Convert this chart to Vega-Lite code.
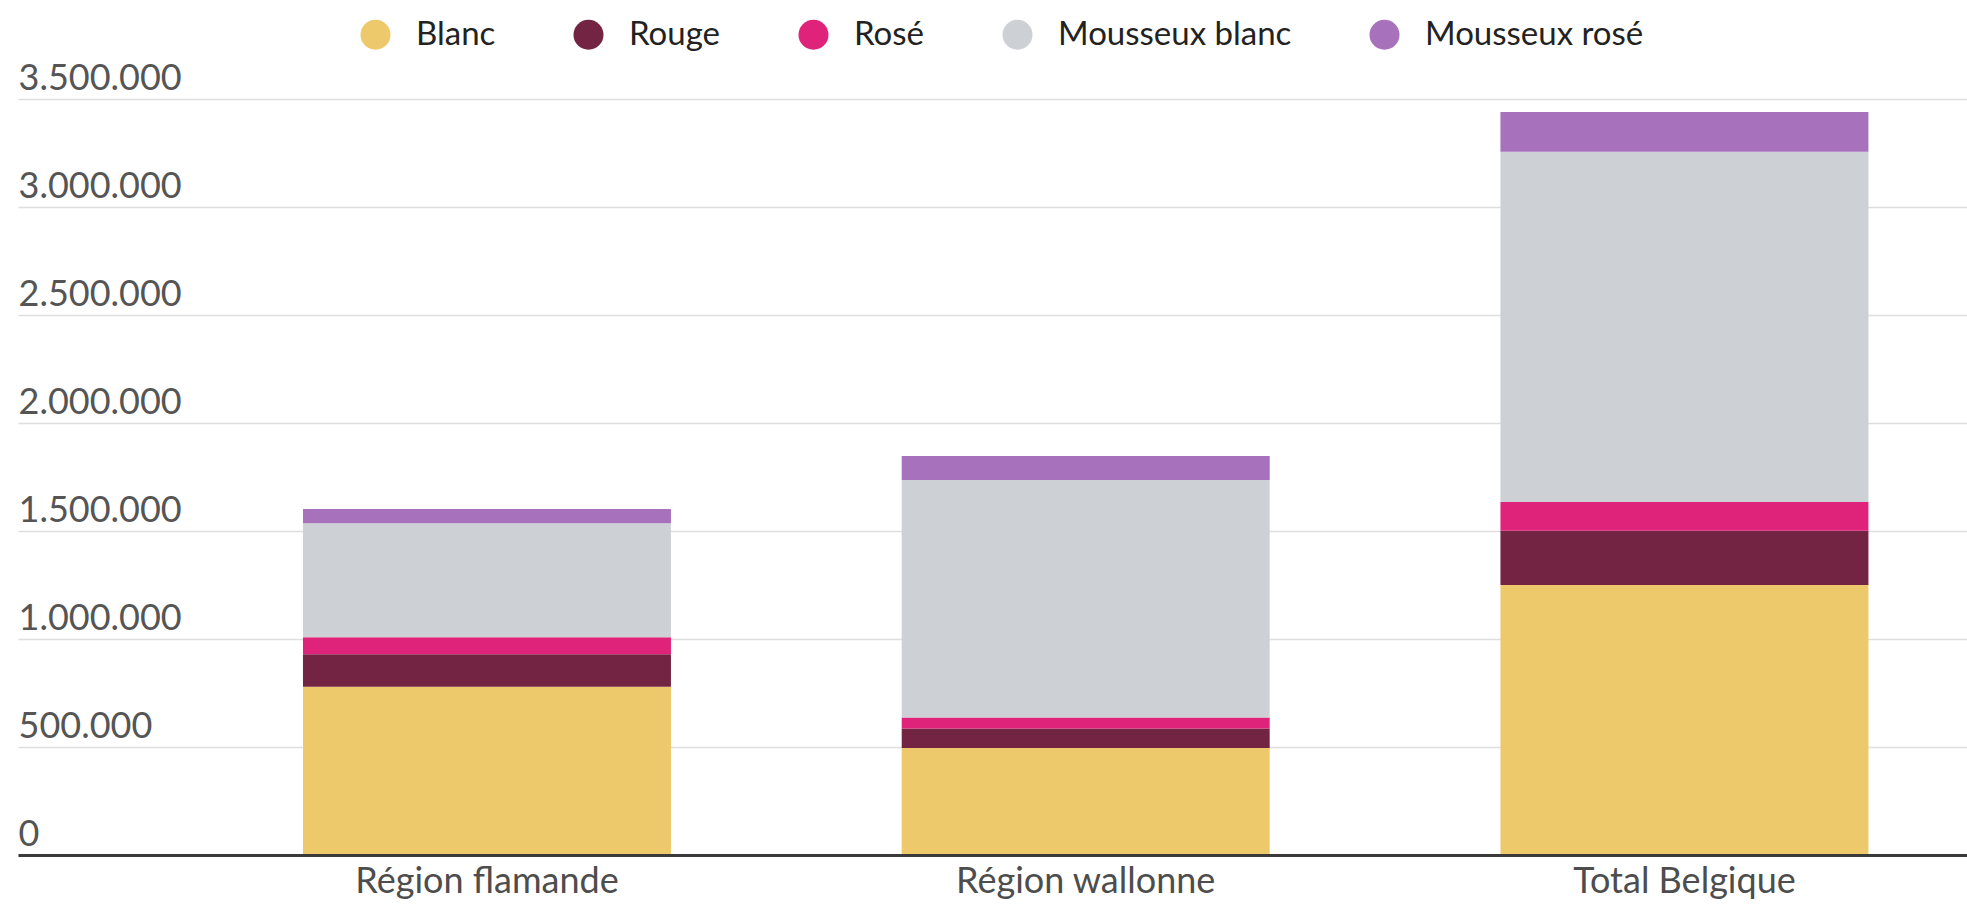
{
  "$schema": "https://vega.github.io/schema/vega-lite/v6.json",
  "autosize": {"type": "none"},
  "padding": {"left": 18, "top": 99, "right": 0, "bottom": 53},
  "width": 1949,
  "height": 756,
  "background": "white",
  "config": {
    "view": {"stroke": null},
    "font": "Lato",
    "locale": {"number": {"decimal": ",", "thousands": ".", "grouping": [3], "currency": ["", " €"]}}
  },
  "data": {
    "values": [
      {"region": "Région flamande", "type": "Blanc", "ordre": 1, "volume": 779000},
      {"region": "Région flamande", "type": "Rouge", "ordre": 2, "volume": 150000},
      {"region": "Région flamande", "type": "Rosé", "ordre": 3, "volume": 79000},
      {"region": "Région flamande", "type": "Mousseux blanc", "ordre": 4, "volume": 528000},
      {"region": "Région flamande", "type": "Mousseux rosé", "ordre": 5, "volume": 66000},
      {"region": "Région wallonne", "type": "Blanc", "ordre": 1, "volume": 495000},
      {"region": "Région wallonne", "type": "Rouge", "ordre": 2, "volume": 91000},
      {"region": "Région wallonne", "type": "Rosé", "ordre": 3, "volume": 51000},
      {"region": "Région wallonne", "type": "Mousseux blanc", "ordre": 4, "volume": 1099000},
      {"region": "Région wallonne", "type": "Mousseux rosé", "ordre": 5, "volume": 111000},
      {"region": "Total Belgique", "type": "Blanc", "ordre": 1, "volume": 1250000},
      {"region": "Total Belgique", "type": "Rouge", "ordre": 2, "volume": 251000},
      {"region": "Total Belgique", "type": "Rosé", "ordre": 3, "volume": 133000},
      {"region": "Total Belgique", "type": "Mousseux blanc", "ordre": 4, "volume": 1622000},
      {"region": "Total Belgique", "type": "Mousseux rosé", "ordre": 5, "volume": 184000}
    ]
  },
  "mark": {"type": "bar"},
  "encoding": {
    "x": {
      "field": "region",
      "type": "nominal",
      "sort": null,
      "scale": {"paddingInner": 0.3854, "paddingOuter": 0.3203, "align": 0.743},
      "axis": {
        "title": null,
        "labelAngle": 0,
        "labelFont": "Lato",
        "labelFontSize": 36,
        "labelColor": "#4d4d4d",
        "labelPadding": 9,
        "labelLimit": 0,
        "ticks": false,
        "domainColor": "#3a3a3a",
        "domainWidth": 3,
        "zindex": 1
      }
    },
    "y": {
      "field": "volume",
      "type": "quantitative",
      "stack": "zero",
      "scale": {"domain": [0, 3500000], "nice": false},
      "axis": {
        "title": null,
        "values": [0, 500000, 1000000, 1500000, 2000000, 2500000, 3000000, 3500000],
        "format": ",d",
        "domain": false,
        "ticks": false,
        "tickSize": 0,
        "labelAlign": "left",
        "labelBaseline": "alphabetic",
        "labelPadding": 0,
        "labelOffset": -10,
        "labelFont": "Lato",
        "labelFontSize": 36,
        "labelColor": "#555555",
        "labelBound": false,
        "labelOverlap": false,
        "labelLimit": 0,
        "gridColor": "#dedede",
        "gridWidth": 1.5
      }
    },
    "color": {
      "field": "type",
      "type": "nominal",
      "scale": {
        "domain": ["Blanc", "Rouge", "Rosé", "Mousseux blanc", "Mousseux rosé"],
        "range": ["#EDC96B", "#742443", "#E0237A", "#CDD0D5", "#A771BB"]
      },
      "legend": {
        "title": null,
        "orient": "none",
        "legendX": 341,
        "legendY": -81,
        "direction": "horizontal",
        "symbolType": "circle",
        "symbolSize": 900,
        "symbolStrokeWidth": 0,
        "symbolOpacity": 1,
        "labelFont": "Lato",
        "labelFontSize": 33,
        "labelColor": "#222222",
        "labelOffset": 24,
        "labelLimit": 0,
        "columnPadding": 76
      }
    },
    "order": {"field": "ordre", "type": "quantitative"}
  }
}
